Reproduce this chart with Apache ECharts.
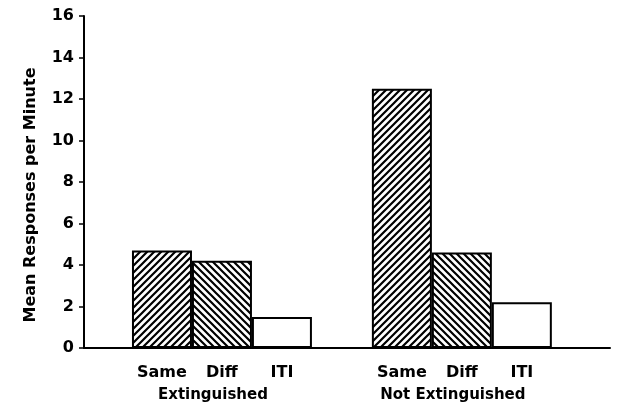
<!DOCTYPE html>
<html>
<head>
<meta charset="utf-8">
<script src="https://cdn.jsdelivr.net/npm/echarts@6/dist/echarts.min.js"></script>
<style>
html,body{margin:0;padding:0;background:#fff;}
#chart{width:617px;height:416px;}
</style>
</head>
<body>
<div id="chart"></div>
<script>
// ---- data ----
var groups = ['Extinguished', 'Not Extinguished'];
var conditions = ['Same', 'Diff', 'ITI'];
var sameValues = [4.7, 12.5];
var diffValues = [4.2, 4.6];
var itiValues = [1.5, 2.2];
var yTicks = [0, 2, 4, 6, 8, 10, 12, 14, 16];
var yTitle = 'Mean Responses per Minute';

var FONT = 'DejaVu Sans';

function hatch(dir) {
  var P = 7;
  var c = document.createElement('canvas');
  c.width = P; c.height = P;
  var ctx = c.getContext('2d');
  ctx.fillStyle = '#fff';
  ctx.fillRect(0, 0, P, P);
  ctx.strokeStyle = '#000';
  ctx.lineWidth = 2.2;
  ctx.beginPath();
  for (var o = -P; o <= P; o += P) {
    if (dir > 0) { // "/" lines
      ctx.moveTo(o - 1, P + 1); ctx.lineTo(o + P + 1, -1);
    } else {       // "\" lines
      ctx.moveTo(o - 1, -1); ctx.lineTo(o + P + 1, P + 1);
    }
  }
  ctx.stroke();
  return { image: c, repeat: 'repeat' };
}

var fills = [hatch(1), hatch(-1), '#ffffff'];
var seriesValues = [sameValues, diffValues, itiValues];

var barData = [];
groups.forEach(function (g, gi) {
  conditions.forEach(function (cname, ci) {
    barData.push({
      name: cname,
      value: [1.3 + 4 * gi + ci, seriesValues[ci][gi]],
      itemStyle: { color: fills[ci], borderColor: '#000', borderWidth: 2 }
    });
  });
});
var groupData = groups.map(function (g, gi) {
  return { name: g, value: [2.15 + 4 * gi, 0] };
});

var chart = echarts.init(document.getElementById('chart'), null, { renderer: 'canvas' });
chart.setOption({
  animation: false,
  backgroundColor: '#fff',
  grid: { left: 84, right: 7, top: 16, bottom: 68, containLabel: false, outerBoundsMode: 'none' },
  xAxis: {
    type: 'value', min: 0, max: 8.77,
    axisLine: { show: true, onZero: true, lineStyle: { color: '#000', width: 2 } },
    axisTick: { show: false }, axisLabel: { show: false }, splitLine: { show: false }
  },
  yAxis: {
    type: 'value', min: yTicks[0], max: yTicks[yTicks.length - 1], interval: 2,
    name: yTitle, nameLocation: 'middle', nameGap: 45,
    nameTextStyle: { fontFamily: FONT, fontSize: 16, fontWeight: 'bold', color: '#000', padding: [0, 26, 0, 0] },
    axisLine: { show: true, lineStyle: { color: '#000', width: 2 } },
    axisTick: { show: true, length: 5, inside: false, lineStyle: { color: '#000', width: 1.5 } },
    axisLabel: { fontFamily: FONT, fontSize: 16, fontWeight: 'bold', color: '#000', margin: 10 },
    splitLine: { show: false }
  },
  series: [
    {
      type: 'bar', barWidth: 60, data: barData, silent: true,
      label: {
        show: true, position: 'bottom', distance: 17,
        formatter: function (p) { return p.name; },
        fontFamily: FONT, fontSize: 16, fontWeight: 'bold', color: '#000'
      }
    },
    {
      type: 'scatter', symbolSize: 0, data: groupData, silent: true,
      itemStyle: { opacity: 1 },
      label: {
        show: true, position: 'bottom', distance: 40, opacity: 1,
        formatter: function (p) { return p.name; },
        fontFamily: FONT, fontSize: 15, fontWeight: 'bold', color: '#000'
      }
    }
  ]
});
</script>
</body>
</html>
